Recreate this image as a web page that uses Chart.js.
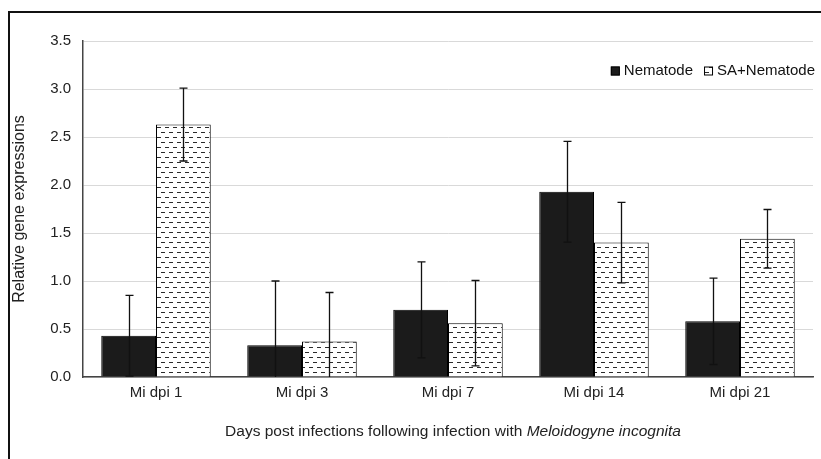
<!DOCTYPE html>
<html>
<head>
<meta charset="utf-8">
<script src="https://cdn.jsdelivr.net/npm/chart.js@4/dist/chart.umd.min.js"></script>
<style>
    body { margin: 0; background: #fff; }
    #wrap { position: relative; width: 821px; height: 459px; }
    #frame { position: absolute; left: 8px; top: 11px; right: -5px; bottom: -5px;
             border-left: 2px solid #111; border-top: 2px solid #111; pointer-events: none; }
</style>
</head>
<body>
<div id="wrap">
    <canvas id="geneChart" width="821" height="459"></canvas>
    <div id="frame"></div>
</div>
<script>
var categories = ["Mi dpi 1", "Mi dpi 3", "Mi dpi 7", "Mi dpi 14", "Mi dpi 21"];
var nematode = [0.43, 0.33, 0.70, 1.93, 0.58];
var nematodeErr = [0.42, 0.67, 0.50, 0.525, 0.45];
var saNematode = [2.63, 0.37, 0.56, 1.40, 1.44];
var saNematodeErr = [0.38, 0.51, 0.445, 0.42, 0.305];
var yTicks = [0, 0.5, 1.0, 1.5, 2.0, 2.5, 3.0, 3.5];

var textFont = "'Liberation Sans', Arial, sans-serif";

// dashed fill like the excel pattern
function makeDashPattern() {
    var c = document.createElement('canvas');
    c.width = 16;
    c.height = 10;
    var p = c.getContext('2d');
    p.fillStyle = '#fff';
    p.fillRect(0, 0, 16, 10);
    p.fillStyle = '#2a2a2a';
    p.fillRect(1, 2, 4, 1);
    p.fillRect(9, 2, 4, 1);
    p.fillRect(5, 7, 4, 1);
    p.fillRect(13, 7, 3, 1);
    p.fillRect(0, 7, 1, 1);
    return p.createPattern(c, 'repeat');
}

var ctx = document.getElementById('geneChart').getContext('2d');
var dashFill = makeDashPattern();

var errorBars = {
    id: 'errorBars',
    afterDatasetsDraw: function (chart) {
        var c = chart.ctx;
        var yScale = chart.scales.y;
        var area = chart.chartArea;
        c.save();
        c.strokeStyle = '#111';
        c.lineWidth = 1.3;
        chart.data.datasets.forEach(function (ds, di) {
            var meta = chart.getDatasetMeta(di);
            meta.data.forEach(function (bar, i) {
                var v = ds.data[i];
                var e = ds.err[i];
                var top = yScale.getPixelForValue(v + e);
                var low = yScale.getPixelForValue(v - e);
                var bottom = Math.min(low, area.bottom);
                var x = Math.round(bar.x) + 0.5;
                c.beginPath();
                c.moveTo(x, top);
                c.lineTo(x, bottom);
                c.moveTo(x - 4, top);
                c.lineTo(x + 4, top);
                if (low < area.bottom) {
                    c.moveTo(x - 4, low);
                    c.lineTo(x + 4, low);
                }
                c.stroke();
            });
        });
        c.restore();
    }
};

// legend sits inside the plot, top right
var innerLegend = {
    id: 'innerLegend',
    afterDraw: function (chart) {
        var c = chart.ctx;
        var sets = chart.data.datasets;
        c.save();
        c.font = "15px " + textFont;
        c.textBaseline = 'middle';
        var x = 815;
        var yMid = 71;
        for (var i = sets.length - 1; i >= 0; i--) {
            var w = c.measureText(sets[i].label).width;
            x -= w;
            c.fillStyle = '#111';
            c.fillText(sets[i].label, x, yMid);
            var bx = x - 13;
            c.fillStyle = sets[i].backgroundColor;
            c.fillRect(bx, yMid - 4.5, 9, 9);
            c.strokeStyle = '#000';
            c.lineWidth = 1;
            c.strokeRect(bx + 0.5, yMid - 4, 8, 8);
            x = bx - 11;
        }
        c.restore();
    }
};

var xTitle = {
    id: 'xTitle',
    afterDraw: function (chart) {
        var c = chart.ctx;
        var part1 = "Days post infections following infection with ";
        var part2 = "Meloidogyne incognita";
        c.save();
        c.fillStyle = '#222';
        c.textBaseline = 'middle';
        c.font = "15.5px " + textFont;
        var w1 = c.measureText(part1).width;
        c.font = "italic 15.5px " + textFont;
        var w2 = c.measureText(part2).width;
        var x0 = 453 - (w1 + w2) / 2;
        c.font = "15.5px " + textFont;
        c.fillText(part1, x0, 432);
        c.font = "italic 15.5px " + textFont;
        c.fillText(part2, x0 + w1, 432);
        c.restore();
    }
};

var myChart = new Chart(ctx, {
    type: 'bar',
    data: {
        labels: categories,
        datasets: [{
            label: 'Nematode',
            data: nematode,
            err: nematodeErr,
            backgroundColor: '#1b1b1b',
            borderColor: '#000',
            borderWidth: 1,
        }, {
            label: 'SA+Nematode',
            data: saNematode,
            err: saNematodeErr,
            backgroundColor: dashFill,
            borderColor: '#000',
            borderWidth: 1,
        }]
    },
    options: {
        responsive: false,
        animation: false,
        layout: {
            padding: { left: 10, top: 41, right: 8, bottom: 0 }
        },
        datasets: {
            bar: { barPercentage: 1.0, categoryPercentage: 0.75 }
        },
        plugins: {
            legend: { display: false },
            tooltip: { enabled: false }
        },
        scales: {
            x: {
                grid: { display: false, drawTicks: false },
                border: { display: true, color: '#444', width: 1.5 },
                ticks: {
                    padding: 7,
                    color: '#222',
                    font: { family: textFont, size: 15 }
                },
                afterFit: function (scale) { scale.height = 82; }
            },
            y: {
                min: 0,
                max: 3.5,
                afterBuildTicks: function (scale) {
                    scale.ticks = yTicks.map(function (v) { return { value: v }; });
                },
                grid: { color: '#d9d9d9', lineWidth: 1, drawTicks: false },
                border: { display: true, color: '#444', width: 1.5 },
                ticks: {
                    padding: 12,
                    color: '#222',
                    font: { family: textFont, size: 15 },
                    callback: function (v) { return v.toFixed(1); }
                },
                title: {
                    display: true,
                    text: 'Relative gene expressions',
                    color: '#222',
                    padding: { top: 0, bottom: 0 },
                    font: { family: textFont, size: 16 }
                },
                afterFit: function (scale) { scale.width = 73; }
            }
        }
    },
    plugins: [errorBars, innerLegend, xTitle]
});
</script>
</body>
</html>
